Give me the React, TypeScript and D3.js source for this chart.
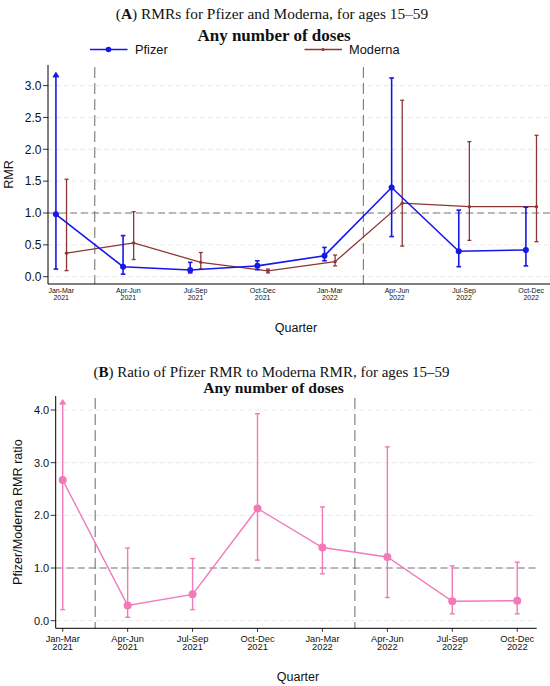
import React from "react";
import * as d3 from "d3";

const quarters = ["Jan-Mar", "Apr-Jun", "Jul-Sep", "Oct-Dec", "Jan-Mar", "Apr-Jun", "Jul-Sep", "Oct-Dec"];
const years = ["2021", "2021", "2021", "2021", "2022", "2022", "2022", "2022"];

const pfizerRMR = [0.98, 0.157, 0.105, 0.17, 0.33, 1.4, 0.4, 0.42];
const pfizerLo = [0.12, 0.04, 0.06, 0.11, 0.25, 0.63, 0.157, 0.17];
const pfizerHi = [3.21, 0.645, 0.225, 0.25, 0.46, 3.12, 1.045, 1.09];
const pfizerTrunc = [true, false, false, false, false, false, false, false];

const modernaRMR = [0.37, 0.53, 0.225, 0.09, 0.236, 1.155, 1.1, 1.1];
const modernaLo = [0.095, 0.27, 0.12, 0.06, 0.17, 0.48, 0.57, 0.55];
const modernaHi = [1.53, 1.02, 0.38, 0.12, 0.34, 2.77, 2.12, 2.22];

const ratio = [2.67, 0.29, 0.5, 2.13, 1.39, 1.21, 0.37, 0.38];
const ratioLo = [0.21, 0.065, 0.21, 1.15, 0.89, 0.44, 0.13, 0.13];
const ratioHi = [4.2, 1.38, 1.18, 3.93, 2.16, 3.3, 1.04, 1.11];
const ratioTrunc = [true, false, false, false, false, false, false, false];

const topTicks = [0, 0.5, 1, 1.5, 2, 2.5, 3];
const botTicks = [0, 1, 2, 3, 4];
const breaks = [0.5, 4.5];

const BLUE = "#1717e8";
const RED = "#8e3535";
const PINK = "#f37aba";
const SANS = "'Liberation Sans', Arial, sans-serif";
const SERIF = "'Liberation Serif', 'Times New Roman', serif";

const idx = d3.range(8);

function ErrorSeries({ x, y, vals, lo, hi, trunc, color, offset, lw, cap, r, arrow }: any) {
  const line = d3
    .line<number>()
    .x((i) => x(i) + offset)
    .y((i) => y(vals[i]));
  return (
    <g>
      {idx.map((i) => {
        const cx = x(i) + offset;
        const isT = trunc && trunc[i];
        return (
          <g key={i}>
            <line x1={cx} x2={cx} y1={y(lo[i])} y2={isT ? y(hi[i]) + 2 : y(hi[i])} stroke={color} strokeWidth={lw} />
            <line x1={cx - cap} x2={cx + cap} y1={y(lo[i])} y2={y(lo[i])} stroke={color} strokeWidth={lw} />
            {isT ? (
              <path
                d={`M${cx},${y(hi[i])} L${cx - arrow},${y(hi[i]) + arrow * 1.6} L${cx + arrow},${y(hi[i]) + arrow * 1.6} Z`}
                fill={color}
                stroke={color}
                strokeWidth={0.8}
              />
            ) : (
              <line x1={cx - cap} x2={cx + cap} y1={y(hi[i])} y2={y(hi[i])} stroke={color} strokeWidth={lw} />
            )}
          </g>
        );
      })}
      <path d={line(idx) || ""} fill="none" stroke={color} strokeWidth={lw} />
      {idx.map((i) => (
        <circle key={"c" + i} cx={x(i) + offset} cy={y(vals[i])} r={r} fill={color} />
      ))}
    </g>
  );
}

function Panel({ x, y, ticks, fmt, yTitle, yTitleX, tickFont, xFont, xLineGap, xTicks, left, right, top, bottom }: any) {
  const [y0, y1] = [bottom, top];
  return (
    <g>
      {/* gridlines */}
      {ticks.map((t: number) => (
        <line key={"g" + t} x1={left} x2={right} y1={y(t)} y2={y(t)} stroke="#e4e4e4" strokeWidth={0.8} strokeDasharray="5,3" />
      ))}
      {/* reference line */}
      <line x1={left} x2={right} y1={y(1)} y2={y(1)} stroke="#7a7a7a" strokeWidth={1.1} strokeDasharray="7,4" />
      {/* vertical breaks */}
      {breaks.map((b) => (
        <line key={"b" + b} x1={x(b)} x2={x(b)} y1={y1 + 2} y2={y0} stroke="#6a6a6a" strokeWidth={1} strokeDasharray="11,5" />
      ))}
      {/* axes */}
      <line x1={left} x2={left} y1={y1} y2={y0} stroke="#000" strokeWidth={1} />
      <line x1={left} x2={right} y1={y0} y2={y0} stroke="#000" strokeWidth={1} />
      {ticks.map((t: number) => (
        <g key={"t" + t}>
          <line x1={left - 5} x2={left} y1={y(t)} y2={y(t)} stroke="#000" strokeWidth={0.8} />
          <text x={left - 6.5} y={y(t)} dy="0.35em" textAnchor="end" fontFamily={SANS} fontSize={tickFont} fill="#111">
            {fmt(t)}
          </text>
        </g>
      ))}
      {idx.map((i) => (
        <g key={"x" + i}>
          {xTicks && <line x1={x(i)} x2={x(i)} y1={y0} y2={y0 + 3.5} stroke="#000" strokeWidth={0.8} />}
          <text x={x(i)} y={y0 + (xTicks ? 5 : 2.5) + xFont * 0.9} textAnchor="middle" fontFamily={SANS} fontSize={xFont} fill="#111">
            {quarters[i]}
          </text>
          <text x={x(i)} y={y0 + (xTicks ? 5 : 2.5) + xFont * 0.9 + xLineGap} textAnchor="middle" fontFamily={SANS} fontSize={xFont} fill="#111">
            {years[i]}
          </text>
        </g>
      ))}
      <text
        transform={`translate(${yTitleX},${(y0 + y1) / 2}) rotate(-90)`}
        textAnchor="middle"
        dy="0.35em"
        fontFamily={SANS}
        fontSize={12.6}
        fill="#111"
      >
        {yTitle}
      </text>
    </g>
  );
}

export default function App() {
  // Panel A
  const axL = 48, axR = 550, axT = 65, axB = 284;
  const xA = d3.scaleLinear().domain([-0.197, 7.28]).range([axL, axR]);
  const yA = d3.scaleLinear().domain([0, 3]).range([276.7, 85.6]);
  // Panel B
  const bxL = 55.7, bxR = 536.7, bxT = 396, bxB = 628.3;
  const xB = d3.scaleLinear().domain([-0.108, 7.3]).range([bxL, bxR]);
  const yB = d3.scaleLinear().domain([0, 4]).range([620.7, 410]);

  const f1 = d3.format(".1f");

  return (
    <svg width={550} height={686} style={{ position: "absolute", left: 0, top: 0, background: "#fff" }}>
      <rect width={550} height={686} fill="#fff" />
      {/* Panel A titles */}
      <text x={272} y={19} textAnchor="middle" fontFamily={SERIF} fontSize={15.4} fill="#111">
        (<tspan fontWeight="bold">A</tspan>) RMRs for Pfizer and Moderna, for ages 15–59
      </text>
      <text x={274} y={40.5} textAnchor="middle" fontFamily={SERIF} fontSize={17} fontWeight="bold" fill="#111">
        Any number of doses
      </text>
      {/* legend */}
      <line x1={90} x2={127.5} y1={49.5} y2={49.5} stroke={BLUE} strokeWidth={1.6} />
      <circle cx={108.5} cy={49.5} r={2.8} fill={BLUE} />
      <text x={135} y={49.5} dy="0.35em" fontFamily={SANS} fontSize={12.8} fill="#111">Pfizer</text>
      <line x1={304.5} x2={342} y1={49.5} y2={49.5} stroke={RED} strokeWidth={1.3} />
      <circle cx={323} cy={49.5} r={1.6} fill={RED} />
      <text x={349} y={49.5} dy="0.35em" fontFamily={SANS} fontSize={12.8} fill="#111">Moderna</text>

      <Panel x={xA} y={yA} ticks={topTicks} fmt={f1} yTitle="RMR" yTitleX={9} tickFont={12} xFont={7} xLineGap={7}
        xTicks={false} left={axL} right={axR} top={axT} bottom={axB} />
      <ErrorSeries x={xA} y={yA} vals={modernaRMR} lo={modernaLo} hi={modernaHi} color={RED} offset={5.3} lw={1.3} cap={2} r={1.7} arrow={3} />
      <ErrorSeries x={xA} y={yA} vals={pfizerRMR} lo={pfizerLo} hi={pfizerHi} trunc={pfizerTrunc} color={BLUE} offset={-5.3} lw={1.6} cap={2.3} r={3} arrow={3} />
      <text x={296} y={327.5} dy="0.35em" textAnchor="middle" fontFamily={SANS} fontSize={12.5} fill="#111">Quarter</text>

      {/* Panel B titles */}
      <text x={271.5} y={377} textAnchor="middle" fontFamily={SERIF} fontSize={15} fill="#111">
        (<tspan fontWeight="bold">B</tspan>) Ratio of Pfizer RMR to Moderna RMR, for ages 15–59
      </text>
      <text x={273.5} y={392.5} textAnchor="middle" fontFamily={SERIF} fontSize={15.6} fontWeight="bold" fill="#111">
        Any number of doses
      </text>
      <Panel x={xB} y={yB} ticks={botTicks} fmt={f1} yTitle="Pfizer/Moderna RMR ratio" yTitleX={17.5} tickFont={11} xFont={9.3} xLineGap={8.6}
        xTicks={true} left={bxL} right={bxR} top={bxT} bottom={bxB} />
      <ErrorSeries x={xB} y={yB} vals={ratio} lo={ratioLo} hi={ratioHi} trunc={ratioTrunc} color={PINK} offset={0} lw={1.4} cap={2.5} r={4} arrow={3} />
      <text x={298} y={676.7} dy="0.35em" textAnchor="middle" fontFamily={SANS} fontSize={12.5} fill="#111">Quarter</text>
    </svg>
  );
}
